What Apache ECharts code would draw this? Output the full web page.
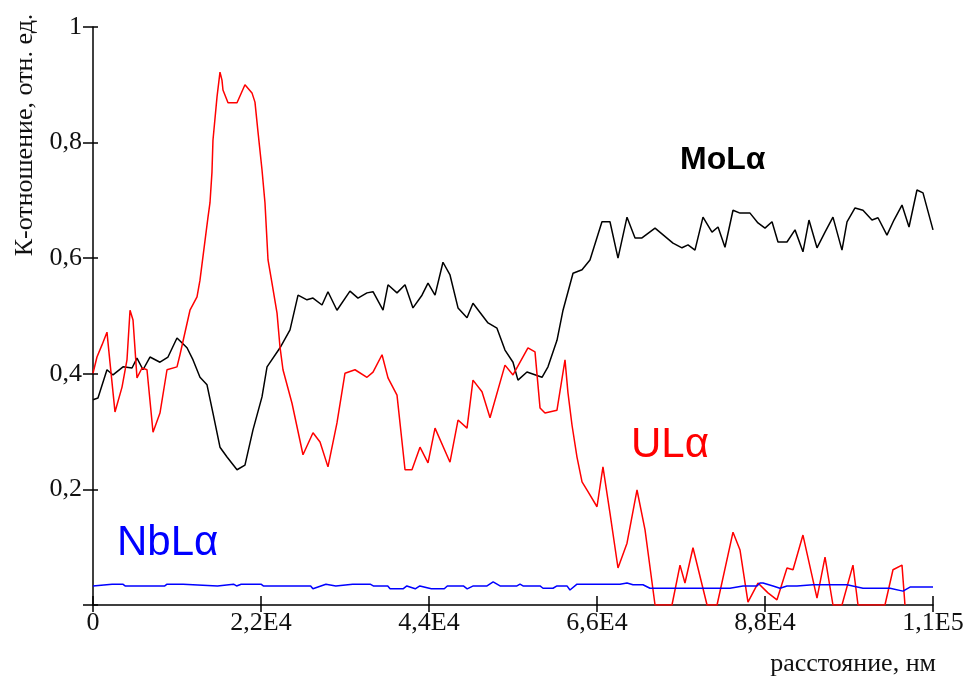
<!DOCTYPE html>
<html><head><meta charset="utf-8">
<script src="https://cdn.jsdelivr.net/npm/echarts@6/dist/echarts.min.js"></script>
<style>html,body{margin:0;padding:0;background:#fff}#c{width:973px;height:684px}</style>
</head><body><div id="c"></div>
<script>
const xTickLabels = ['0', '2,2E4', '4,4E4', '6,6E4', '8,8E4', '1,1E5'];
const yTickLabels = ['', '0,2', '0,4', '0,6', '0,8', '1'];

const moX = [0,650,1830,2620,3930,5110,5760,6550,7460,8770,9820,11000,12310,13100,14010,14930,15710,16630,17550,18860,19900,20950,22130,22790,24490,25800,26850,28020,28810,29990,30770,31950,33650,34700,35880,36670,37980,38630,39810,40860,41900,43080,43870,44790,45830,46750,47800,48980,49760,51730,52900,53950,55000,55650,56830,58800,59580,60760,61550,62860,64040,65080,66650,67700,68750,69930,70980,71890,73600,75950,77130,77920,78830,79880,81060,81850,82760,83810,84730,86040,87080,88000,88920,89700,90880,91930,92970,93760,94810,95860,96900,98080,98740,99790,100830,102010,102800,103970,104890,105940,106860,107900,108690,110000];
const moY = [0.355,0.358,0.407,0.398,0.412,0.410,0.427,0.407,0.429,0.420,0.429,0.462,0.445,0.424,0.394,0.381,0.332,0.273,0.256,0.234,0.242,0.303,0.360,0.412,0.445,0.476,0.536,0.528,0.531,0.519,0.542,0.510,0.543,0.531,0.540,0.542,0.510,0.554,0.540,0.554,0.514,0.536,0.557,0.536,0.593,0.571,0.514,0.497,0.522,0.488,0.479,0.441,0.420,0.389,0.403,0.394,0.412,0.458,0.510,0.574,0.580,0.597,0.663,0.663,0.600,0.671,0.635,0.635,0.652,0.626,0.618,0.623,0.614,0.671,0.645,0.654,0.619,0.683,0.678,0.678,0.661,0.652,0.663,0.628,0.628,0.649,0.611,0.666,0.618,0.645,0.671,0.614,0.663,0.687,0.683,0.666,0.670,0.640,0.666,0.692,0.654,0.718,0.713,0.649];

const uX = [0,520,1180,1830,2230,2880,3800,4450,4850,5240,5760,6420,7070,7860,8770,9690,11000,11390,12700,13620,14010,15060,15320,15580,15710,16240,16630,16890,17020,17680,18860,19900,20820,21210,21610,22130,22520,22920,23440,24100,24490,24880,26060,27500,28810,29730,30770,31950,33000,34310,35880,36670,37850,38630,39810,40860,41770,42820,43870,44790,46750,47800,48980,49760,50940,51990,53950,55000,56960,57880,58540,59190,60760,61810,62200,62730,63380,64040,64820,66000,66780,67700,68750,69930,71240,72290,73600,75820,76870,77520,78570,80410,81720,83810,84730,85770,87080,88390,89570,90880,91670,92970,94810,95860,96900,98080,99520,100180,103710,104760,105940,106330];
const uY = [0.401,0.429,0.450,0.472,0.419,0.334,0.377,0.424,0.510,0.493,0.393,0.410,0.407,0.299,0.332,0.407,0.412,0.433,0.510,0.533,0.562,0.671,0.696,0.749,0.804,0.879,0.922,0.908,0.891,0.869,0.869,0.900,0.886,0.870,0.818,0.753,0.696,0.597,0.557,0.505,0.446,0.407,0.349,0.260,0.298,0.282,0.239,0.315,0.401,0.407,0.394,0.403,0.433,0.393,0.363,0.234,0.234,0.273,0.246,0.306,0.247,0.320,0.306,0.389,0.369,0.324,0.415,0.398,0.445,0.438,0.341,0.332,0.337,0.424,0.367,0.311,0.256,0.213,0.196,0.170,0.239,0.159,0.064,0.107,0.199,0.130,0.0,0.0,0.069,0.038,0.099,0.0,0.0,0.126,0.095,0.005,0.038,0.021,0.009,0.064,0.061,0.121,0.012,0.083,0.0,0.0,0.069,0.0,0.0,0.061,0.069,0.0];

const nbX = [0,2500,3900,4200,9400,9700,11800,12000,16300,16500,18400,18800,19400,22000,22300,28500,28800,30500,31800,34000,36300,36700,38600,38900,40600,41100,42200,42800,44300,46000,46400,48500,49000,49800,51600,52400,53300,55520,55920,56310,58540,58930,60240,60760,62070,62460,63380,69010,69930,70710,72020,72940,83410,85120,86950,87340,87740,89050,89960,90880,92190,94280,98740,100830,104370,106070,106990,110000];
const nbY = [0.033,0.036,0.036,0.033,0.033,0.036,0.036,0.033,0.033,0.036,0.036,0.033,0.036,0.036,0.033,0.033,0.028,0.036,0.033,0.036,0.036,0.033,0.033,0.028,0.028,0.033,0.028,0.033,0.028,0.028,0.033,0.033,0.028,0.033,0.033,0.040,0.033,0.033,0.036,0.033,0.033,0.029,0.029,0.033,0.033,0.026,0.036,0.036,0.038,0.035,0.035,0.029,0.029,0.033,0.033,0.038,0.038,0.033,0.029,0.033,0.033,0.035,0.035,0.029,0.029,0.024,0.031,0.031];

const zip = (xs, ys) => xs.map((x, i) => [x, ys[i]]);

const chart = echarts.init(document.getElementById('c'), null, {renderer: 'canvas'});
const serif = '"Liberation Serif", "Times New Roman", serif';
const sans = '"Liberation Sans", Arial, sans-serif';
const tickStyle = {color: '#000', width: 1.5};

chart.setOption({
  animation: false,
  backgroundColor: '#fff',
  grid: {left: 93, right: 40, top: 27, bottom: 79, containLabel: false},
  xAxis: [{
    type: 'value', min: 0, max: 110000, interval: 22000,
    axisLine: {show: true, lineStyle: {color: '#000', width: 1.5}},
    axisTick: {show: true, length: 7, lineStyle: tickStyle},
    axisLabel: {fontFamily: serif, fontSize: 26, color: '#111', margin: 5,
      formatter: v => xTickLabels[Math.round(v / 22000)]},
    splitLine: {show: false}
  }, {
    type: 'value', min: 0, max: 110000, interval: 22000, position: 'bottom',
    axisLine: {show: false},
    axisTick: {show: true, inside: true, length: 9, lineStyle: tickStyle},
    axisLabel: {show: false}, splitLine: {show: false}
  }],
  yAxis: [{
    type: 'value', min: 0, max: 1, interval: 0.2,
    axisLine: {show: true, lineStyle: {color: '#000', width: 1.5}},
    axisTick: {show: true, length: 10, lineStyle: tickStyle},
    axisLabel: {fontFamily: serif, fontSize: 26, color: '#111', margin: 11,
      formatter: v => yTickLabels[Math.round(v / 0.2)]},
    splitLine: {show: false}
  }, {
    type: 'value', min: 0, max: 1, interval: 0.2, position: 'left',
    axisLine: {show: false},
    axisTick: {show: true, inside: true, length: 5, lineStyle: tickStyle},
    axisLabel: {show: false}, splitLine: {show: false}
  }],
  graphic: [
    {type: 'text', x: 25, y: 135, rotation: Math.PI / 2,
      style: {text: 'К-отношение, отн. ед.', font: '26px ' + serif, fill: '#111', align: 'center', verticalAlign: 'middle'}},
    {type: 'text', x: 936, y: 664,
      style: {text: 'расстояние, нм', font: '26px ' + serif, fill: '#111', align: 'right', verticalAlign: 'middle'}},
    {type: 'text', x: 680, y: 160,
      style: {text: 'MoLα', font: 'bold 32px ' + sans, fill: '#000', align: 'left', verticalAlign: 'middle'}},
    {type: 'text', x: 631, y: 445,
      style: {text: 'ULα', font: '42px ' + sans, fill: '#ff0000', align: 'left', verticalAlign: 'middle'}},
    {type: 'text', x: 117, y: 543,
      style: {text: 'NbLα', font: '42px ' + sans, fill: '#0000ff', align: 'left', verticalAlign: 'middle'}}
  ],
  series: [
    {name: 'MoLα', type: 'line', data: zip(moX, moY), showSymbol: false, clip: true,
      lineStyle: {color: '#000', width: 1.5}},
    {name: 'ULα', type: 'line', data: zip(uX, uY), showSymbol: false, clip: true,
      lineStyle: {color: '#ff0000', width: 1.5}},
    {name: 'NbLα', type: 'line', data: zip(nbX, nbY), showSymbol: false, clip: true,
      lineStyle: {color: '#0000ff', width: 1.5}}
  ]
});
</script>
</body></html>
